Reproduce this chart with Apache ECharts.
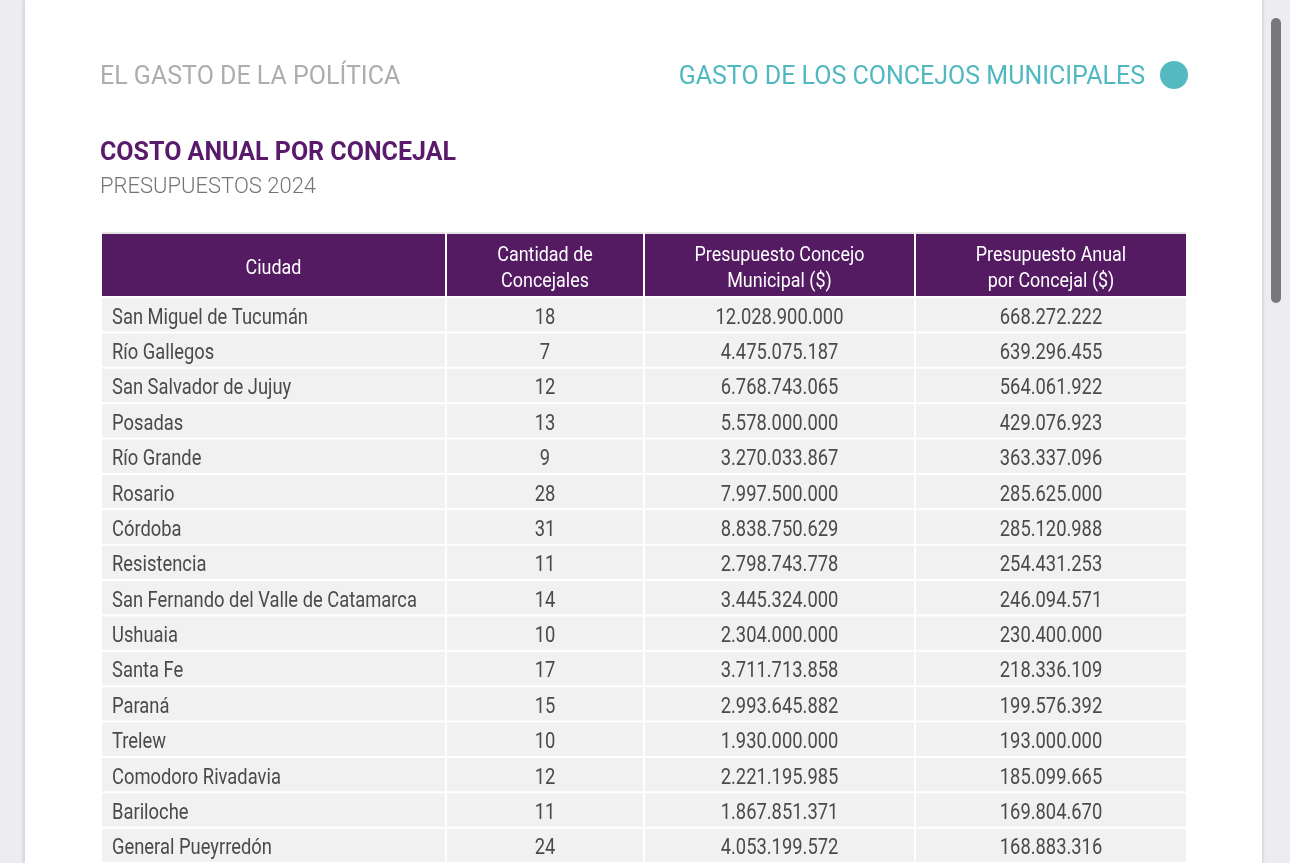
<!DOCTYPE html>
<html><head><meta charset="utf-8">
<script src="https://cdn.jsdelivr.net/npm/echarts@6/dist/echarts.min.js"></script>
<style>html,body{margin:0;padding:0;background:#ededf1;}#c{width:1290px;height:863px;}</style>
</head><body><div id="c"></div>
<script>
const headers = ['Ciudad', 'Cantidad de\nConcejales', 'Presupuesto Concejo\nMunicipal ($)', 'Presupuesto Anual\npor Concejal ($)'];
const cities = ['San Miguel de Tucumán','Río Gallegos','San Salvador de Jujuy','Posadas','Río Grande','Rosario','Córdoba','Resistencia','San Fernando del Valle de Catamarca','Ushuaia','Santa Fe','Paraná','Trelew','Comodoro Rivadavia','Bariloche','General Pueyrredón'];
const concejales = [18,7,12,13,9,28,31,11,14,10,17,15,10,12,11,24];
const presupuesto = [12028900000,4475075187,6768743065,5578000000,3270033867,7997500000,8838750629,2798743778,3445324000,2304000000,3711713858,2993645882,1930000000,2221195985,1867851371,4053199572];
const porConcejal = [668272222,639296455,564061922,429076923,363337096,285625000,285120988,254431253,246094571,230400000,218336109,199576392,193000000,185099665,169804670,168883316];

// layout
const colEdges = [0, 344, 542, 813, 1084];
const CELL_FONT = '400 22px Roboto';
const HEAD_FONT = '400 21px Roboto';

function fmt(n){ return String(n).replace(/\B(?=(\d{3})+(?!\d))/g, '.'); }
const mctx = document.createElement('canvas').getContext('2d');
function widthOf(t, f){ mctx.font = f; return mctx.measureText(t).width; }
// condensed look: horizontal squeeze matched to the reference's text widths
const cellScale = 196 / widthOf('San Miguel de Tucumán', CELL_FONT);
const headScale = 170 / widthOf('Presupuesto Concejo', HEAD_FONT);

const cellData = [];
cities.forEach((c, r) => {
  cellData.push([0, r, c]);
  cellData.push([1, r, String(concejales[r])]);
  cellData.push([2, r, fmt(presupuesto[r])]);
  cellData.push([3, r, fmt(porConcejal[r])]);
});
const headData = headers.map((h, i) => [i, 0, h]);

const chart = echarts.init(document.getElementById('c'), null, {renderer: 'canvas'});
chart.setOption({
  animation: false,
  backgroundColor: '#ededf1',
  graphic: [
    {type: 'rect', z: -10, shape: {x: 22, y: 0, width: 1242, height: 863}, style: {fill: '#e2e2e8'}},
    {type: 'rect', z: -9, shape: {x: 25, y: 0, width: 1237, height: 863}, style: {fill: '#ffffff', shadowBlur: 6, shadowColor: 'rgba(0,0,0,0.08)'}},
    {type: 'rect', z: -8, shape: {x: 1271, y: 18, width: 10, height: 285, r: 5}, style: {fill: '#78787c'}},
    {type: 'text', x: 100, y: 78, style: {text: 'EL GASTO DE LA POLÍTICA', fill: '#adadad', font: '400 25px Roboto', verticalAlign: 'middle'}},
    {type: 'text', x: 1145, y: 78, style: {text: 'GASTO DE LOS CONCEJOS MUNICIPALES', fill: '#4fb8c1', font: '400 25px Roboto', align: 'right', verticalAlign: 'middle'}},
    {type: 'circle', shape: {cx: 1174, cy: 75, r: 14}, style: {fill: '#55b9c2'}},
    {type: 'text', x: 100, y: 154, style: {text: 'COSTO ANUAL POR CONCEJAL', fill: '#5a1a6c', font: '700 25px Roboto', verticalAlign: 'middle'}},
    {type: 'text', x: 100, y: 187, style: {text: 'PRESUPUESTOS 2024', fill: '#757575', font: '300 22px Roboto', verticalAlign: 'middle'}}
  ],
  grid: {left: 102, top: 297, width: 1084, height: 566.4, containLabel: false},
  xAxis: {type: 'value', min: 0, max: 1084, show: false},
  yAxis: {type: 'category', inverse: true, data: cities, show: false},
  series: [
    {
      type: 'custom',
      data: cellData,
      clip: false,
      renderItem: function (params, api) {
        const c = api.value(0), r = api.value(1);
        const text = cellData[params.dataIndex][2];
        const p0 = api.coord([colEdges[c], r]);
        const p1 = api.coord([colEdges[c + 1], r]);
        const h = api.size([0, 1])[1];
        const x0 = p0[0] + (c === 0 ? 0 : 1);
        const x1 = p1[0] - (c === 3 ? 0 : 1);
        const y0 = p0[1] - h / 2 + 1;
        return {
          type: 'group',
          children: [
            {type: 'rect', shape: {x: x0, y: y0, width: x1 - x0, height: h - 2}, style: {fill: '#f1f1f1'}},
            {type: 'text', x: c === 0 ? x0 + 10 : (x0 + x1) / 2, y: p0[1] + 3.5, scaleX: cellScale,
              style: {
              text: text, x: 0, y: 0,
              align: c === 0 ? 'left' : 'center', verticalAlign: 'middle',
              fill: '#4a4a4a', font: CELL_FONT}}
          ]
        };
      }
    },
    {
      type: 'custom',
      data: headData,
      clip: false,
      renderItem: function (params, api) {
        const c = api.value(0);
        const text = headData[params.dataIndex][2];
        const p0 = api.coord([colEdges[c], 0]);
        const p1 = api.coord([colEdges[c + 1], 0]);
        const top = params.coordSys.y - 63;
        const x0 = p0[0] + (c === 0 ? 0 : 1);
        const x1 = p1[0] - (c === 3 ? 0 : 1);
        return {
          type: 'group',
          children: [
            {type: 'rect', shape: {x: x0 - (c === 0 ? 0 : 1), y: top - 2, width: x1 - x0 + (c === 0 ? 0 : 1), height: 2}, style: {fill: '#e4e4e4'}},
            {type: 'rect', shape: {x: x0, y: top, width: x1 - x0, height: 62}, style: {fill: '#541a62'}},
            {type: 'text', x: (x0 + x1) / 2, y: top + 34.5, scaleX: headScale,
              style: {
              text: text, x: 0, y: 0,
              align: 'center', verticalAlign: 'middle', lineHeight: 26,
              fill: '#ffffff', font: HEAD_FONT}}
          ]
        };
      }
    }
  ]
});
</script></body></html>
